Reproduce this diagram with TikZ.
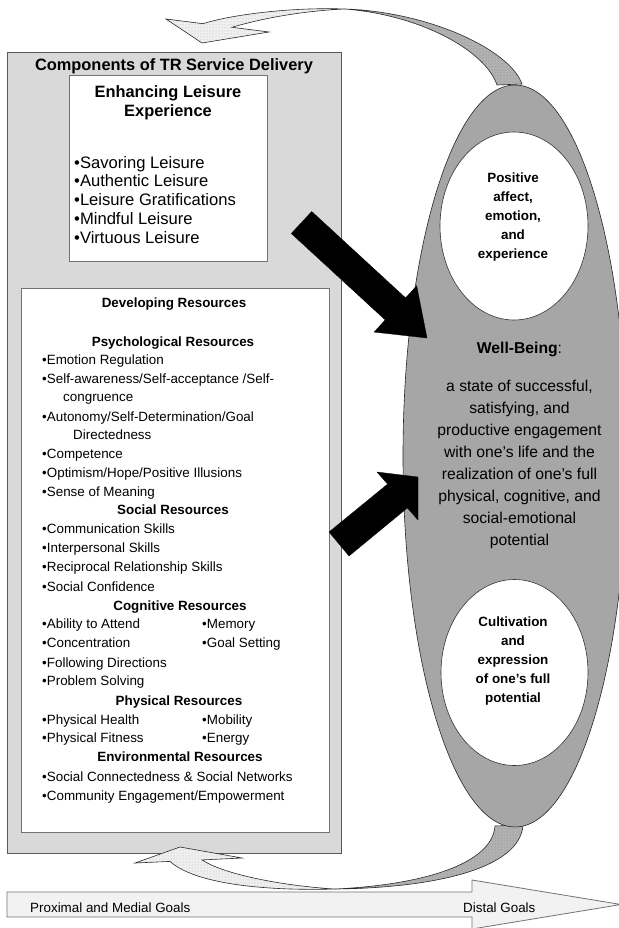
\documentclass[tikz,border=0pt]{standalone}
\usepackage{fontspec}
\setmainfont{Liberation Sans}
\usetikzlibrary{shapes.geometric,patterns}
\definecolor{boxgray}{gray}{0.85}
\definecolor{wbgray}{gray}{0.65}
\definecolor{linegray}{gray}{0.35}
\begin{document}
\begin{tikzpicture}[x=1pt,y=-1pt,
  outerbox/.style={draw=linegray, line width=0.9pt, fill=boxgray, inner sep=0pt, anchor=north west},
  whitebox/.style={draw=black!55, line width=0.9pt, fill=white, inner sep=0pt, anchor=north west},
  itm/.style={anchor=base west, inner sep=0pt, font=\fontsize{13.4}{16}\selectfont},
  hdr/.style={anchor=base, inner sep=0pt, font=\fontsize{13.4}{16}\selectfont\bfseries},
  bigitm/.style={anchor=base west, inner sep=0pt, font=\fontsize{16.6}{19}\selectfont},
  ribbonlight/.style={draw=black!85, line width=0.6pt, fill=black!6, postaction={pattern=dots, pattern color=black!30}},
  ribbondark/.style={draw=black!85, line width=0.6pt, fill=black!30, postaction={pattern=dots, pattern color=black!50}},
  blackarrow/.style={fill=black, draw=black, line width=0.3pt},
  goalarrow/.style={draw=black!55, line width=0.8pt, fill=black!5},
  ovalwhite/.style={ellipse, draw=black!80, line width=0.6pt, fill=white, inner sep=0pt}
]
\useasboundingbox (0,0) rectangle (618,928);
\fill[white] (0,0) rectangle (618,928);

% ---------- left block ----------
\node[outerbox, minimum width=334pt, minimum height=801pt] (tr) at (7,52) {};
\node[hdr, font=\fontsize{16.4}{19}\selectfont\bfseries] (trtitle) at (174,70.8) {Components of TR Service Delivery};

\node[whitebox, minimum width=198pt, minimum height=186pt] (ele) at (69,75) {};
\node[align=center, inner sep=0pt, font=\fontsize{16.4}{19}\selectfont\bfseries] (eletitle) at (168,102.5) {Enhancing Leisure\\Experience};
\node[bigitm] (el1) at (74,168) {•Savoring Leisure};
\node[bigitm] (el2) at (74,186.5) {•Authentic Leisure};
\node[bigitm] (el3) at (74,205) {•Leisure Gratifications};
\node[bigitm] (el4) at (74,224) {•Mindful Leisure};
\node[bigitm] (el5) at (74,243) {•Virtuous Leisure};

\node[whitebox, minimum width=308pt, minimum height=544pt] (dev) at (21,288) {};
\node[hdr] (devtitle) at (174,307.8) {Developing Resources};
\node[hdr] (psy) at (173,346.8) {Psychological Resources};
\node[itm] (p1) at (42,364.8) {•Emotion Regulation};
\node[itm] (p2) at (42,383.8) {•Self-awareness/Self-acceptance /Self-};
\node[itm] (p2b) at (63,401.8) {congruence};
\node[itm] (p3) at (42,421.8) {•Autonomy/Self-Determination/Goal};
\node[itm] (p3b) at (73,439.8) {Directedness};
\node[itm] (p4) at (42,458.8) {•Competence};
\node[itm] (p5) at (42,477.8) {•Optimism/Hope/Positive Illusions};
\node[itm] (p6) at (42,496.8) {•Sense of Meaning};
\node[hdr] (soc) at (173,514.8) {Social Resources};
\node[itm] (s1) at (42,533.8) {•Communication Skills};
\node[itm] (s2) at (42,552.8) {•Interpersonal Skills};
\node[itm] (s3) at (42,571.8) {•Reciprocal Relationship Skills};
\node[itm] (s4) at (42,591.8) {•Social Confidence};
\node[hdr] (cog) at (180,610.8) {Cognitive Resources};
\node[itm] (c1) at (42,628.8) {•Ability to Attend};
\node[itm] (c1b) at (202,628.8) {•Memory};
\node[itm] (c2) at (42,647.8) {•Concentration};
\node[itm] (c2b) at (202,647.8) {•Goal Setting};
\node[itm] (c3) at (42,667.8) {•Following Directions};
\node[itm] (c4) at (42,685.8) {•Problem Solving};
\node[hdr] (phy) at (179,705.8) {Physical Resources};
\node[itm] (h1) at (42,724.8) {•Physical Health};
\node[itm] (h1b) at (202,724.8) {•Mobility};
\node[itm] (h2) at (42,742.8) {•Physical Fitness};
\node[itm] (h2b) at (202,742.8) {•Energy};
\node[hdr] (env) at (180,761.8) {Environmental Resources};
\node[itm] (e1) at (42,781.8) {•Social Connectedness \& Social Networks};
\node[itm] (e2) at (42,800.8) {•Community Engagement/Empowerment};

% ---------- curved feedback arrows ----------
\coordinate (topmid) at (345,9);
\draw[ribbonlight] (166,19) -- (202,43) -- (269,32) -- (232,27.3)
  .. controls (260,19) and (300,11) .. (topmid)
  .. controls (290,7) and (230,15) .. (203,23.7) -- cycle;
\draw[ribbondark] (topmid) .. controls (430,12) and (510,50) .. (522,84)
  -- (497,85) .. controls (485,50) and (420,15) .. (topmid) -- cycle;

\coordinate (botmid) at (335,889);
\draw[ribbonlight] (135,863) -- (180,847) -- (242,858) -- (202,859.9)
  .. controls (225,875) and (285,886) .. (botmid)
  .. controls (265,891) and (195,884) .. (170,861.4) -- cycle;
\draw[ribbondark] (botmid) .. controls (430,888) and (520,870) .. (523,825)
  -- (495,826) .. controls (492,865) and (420,885) .. (botmid) -- cycle;

% ---------- well-being oval ----------
\node[ellipse, draw=black!85, line width=0.6pt, fill=wbgray, inner sep=0pt,
      minimum width=224pt, minimum height=742pt] (wb) at (515,456) {};
\node[ovalwhite, minimum width=148pt, minimum height=188pt] (pa) at (514,226) {};
\node[ovalwhite, minimum width=147pt, minimum height=186pt] (cu) at (514.5,672.5) {};

\node[align=center, inner sep=0pt, font=\fontsize{13.4}{19}\selectfont\bfseries] (patext) at (513,217) {Positive\\affect,\\emotion,\\and\\experience};
\node[align=center, inner sep=0pt, font=\fontsize{13.4}{18.8}\selectfont\bfseries] (cutext) at (513,661) {Cultivation\\and\\expression\\of one’s full\\potential};
\node[anchor=base, inner sep=0pt, font=\fontsize{15.7}{22}\selectfont] (wbtitle) at (519.5,353.5) {\textbf{Well-Being}:};
\node[align=center, inner sep=0pt, font=\fontsize{15.7}{21.9}\selectfont] (wbtext) at (519.5,464.5) {a state of successful,\\satisfying, and\\productive engagement\\with one’s life and the\\realization of one’s full\\physical, cognitive, and\\social-emotional\\potential};

% ---------- black arrows ----------
\draw[blackarrow] (311.7,211.5) -- (405.6,297.9) -- (416.7,285.7) -- (427,338)
  -- (374.1,332.1) -- (385.2,319.9) -- (291.3,233.5) -- cycle;
\draw[blackarrow] (329,532) -- (387.6,484.1) -- (377,472) -- (418,477)
  -- (418,520) -- (407.4,507.9) -- (349,556) -- cycle;

% ---------- goals arrow ----------
\draw[goalarrow] (7,892) -- (472,892) -- (472,880) -- (621,904.5) -- (472,929)
  -- (472,917) -- (7,917) -- cycle;
\node[itm] (prox) at (30,912.5) {Proximal and Medial Goals};
\node[itm] (dist) at (463,912.5) {Distal Goals};
\end{tikzpicture}
\end{document}
